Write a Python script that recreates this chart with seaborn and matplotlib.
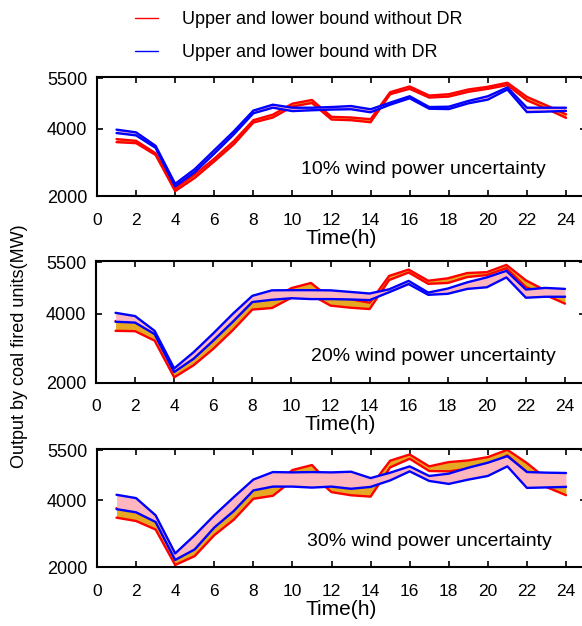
import numpy as np
import matplotlib
matplotlib.use("Agg")
import matplotlib.pyplot as plt
from matplotlib.lines import Line2D
import seaborn as sns

hours = list(range(1, 25))

# 10% wind power uncertainty
red_up_10 = [3700, 3650, 3280, 2240, 2650, 3120, 3640, 4260, 4425, 4750, 4860, 4360,
             4340, 4290, 5090, 5260, 4990, 5030, 5170, 5250, 5370, 4950, 4700, 4435]
red_lo_10 = [3610, 3580, 3230, 2160, 2550, 3040, 3545, 4190, 4340, 4665, 4770, 4280,
             4260, 4200, 5030, 5190, 4930, 4960, 5100, 5190, 5300, 4850, 4600, 4330]
blue_up_10 = [3980, 3900, 3500, 2375, 2810, 3370, 3930, 4545, 4720, 4630, 4630, 4650,
              4680, 4585, 4780, 4970, 4650, 4660, 4830, 4970, 5230, 4630, 4630, 4630]
blue_lo_10 = [3880, 3810, 3440, 2300, 2720, 3270, 3840, 4465, 4630, 4530, 4555, 4575,
              4585, 4495, 4720, 4910, 4600, 4590, 4760, 4870, 5170, 4500, 4515, 4535]

# 20% wind power uncertainty
red_up_20 = [3790, 3770, 3430, 2320, 2720, 3240, 3790, 4360, 4430, 4750, 4900, 4450,
             4430, 4325, 5105, 5290, 4965, 5035, 5190, 5215, 5426, 4976, 4680, 4510]
red_lo_20 = [3505, 3495, 3220, 2150, 2505, 2980, 3525, 4125, 4170, 4470, 4560, 4240,
             4180, 4140, 4985, 5205, 4875, 4900, 5072, 5130, 5330, 4780, 4550, 4297]
blue_up_20 = [4030, 3935, 3505, 2410, 2885, 3430, 4000, 4525, 4685, 4690, 4690, 4685,
              4640, 4593, 4715, 4960, 4620, 4737, 4919, 5062, 5253, 4708, 4756, 4727]
blue_lo_20 = [3770, 3745, 3410, 2305, 2695, 3220, 3770, 4345, 4410, 4455, 4430, 4430,
              4420, 4400, 4630, 4868, 4555, 4584, 4727, 4775, 5062, 4470, 4498, 4498]

# 30% wind power uncertainty
red_up_30 = [3770, 3670, 3380, 2240, 2560, 3220, 3710, 4330, 4430, 4910, 5060, 4450,
             4380, 4420, 5190, 5376, 5020, 5148, 5198, 5297, 5515, 5119, 4650, 4420]
red_lo_30 = [3485, 3385, 3130, 2070, 2335, 2960, 3425, 4050, 4140, 4600, 4760, 4250,
             4155, 4115, 4990, 5248, 4881, 4870, 4950, 5050, 5347, 4850, 4400, 4158]
blue_up_30 = [4170, 4070, 3555, 2415, 2960, 3555, 4100, 4625, 4850, 4840, 4850, 4840,
              4860, 4670, 4830, 5020, 4733, 4802, 4980, 5129, 5327, 4851, 4832, 4822]
blue_lo_30 = [3740, 3645, 3355, 2220, 2535, 3190, 3685, 4300, 4415, 4415, 4385, 4415,
              4350, 4406, 4600, 4871, 4584, 4495, 4624, 4733, 5020, 4376, 4390, 4406]

panel_labels = ["10% wind power uncertainty", "20% wind power uncertainty",
                "30% wind power uncertainty"]
legend_labels = ["Upper and lower bound without DR", "Upper and lower bound with DR"]
x_ticks = list(range(0, 25, 2))
y_ticks = [2000, 4000, 5500]

sns.set_style("ticks")
plt.rcParams['font.family'] = ['Liberation Sans', 'DejaVu Sans']
plt.rcParams['text.color'] = 'black'
plt.rcParams['axes.labelcolor'] = 'black'
plt.rcParams['xtick.color'] = 'black'
plt.rcParams['ytick.color'] = 'black'

RED = "#FF0000"
BLUE = "#0000FF"
ORANGE = "#E6A823"
PINK = "#FFB6BE"

W, H = 582, 626
fig = plt.figure(figsize=(W / 100, H / 100), dpi=100)

# (left px, top px, bottom px)
boxes = [(97, 77, 196.5), (96, 261, 382.5), (97, 449, 567.3)]
xw = 469 / 24 * 25

datasets = [
    (red_up_10, red_lo_10, blue_up_10, blue_lo_10),
    (red_up_20, red_lo_20, blue_up_20, blue_lo_20),
    (red_up_30, red_lo_30, blue_up_30, blue_lo_30),
]
text_pos = [(0.418, 0.222), (0.44, 0.21), (0.43, 0.222)]

for i, ((l, t, b), (ru, rl, bu, bl)) in enumerate(zip(boxes, datasets)):
    ax = fig.add_axes([l / W, 1 - b / H, xw / W, (b - t) / H])
    ax.fill_between(hours, rl, ru, color=ORANGE, lw=0, zorder=1)
    sns.lineplot(x=hours, y=ru, ax=ax, color=RED, lw=1.7, zorder=2)
    sns.lineplot(x=hours, y=rl, ax=ax, color=RED, lw=1.7, zorder=2)
    ax.fill_between(hours, bl, bu, color=PINK, lw=0, zorder=3)
    sns.lineplot(x=hours, y=bu, ax=ax, color=BLUE, lw=1.7, zorder=4)
    sns.lineplot(x=hours, y=bl, ax=ax, color=BLUE, lw=1.7, zorder=4)

    ax.set_xlim(0, 25)
    ax.set_ylim(2000, 5540)
    ax.set_xticks(x_ticks)
    ax.set_yticks(y_ticks)
    ax.tick_params(axis='x', direction='in', top=True, length=4, width=1.2,
                   labelsize=12.5, pad=12, colors='black')
    ax.tick_params(axis='y', direction='in', right=True, length=4, width=1.2,
                   labelsize=13, pad=7, colors='black')
    for sp in ax.spines.values():
        sp.set_linewidth(1.5)
        sp.set_color('black')
    ax.set_xlabel("Time(h)", fontsize=15, labelpad=0.5, color='black')
    ax.set_ylabel("")
    ax.text(text_pos[i][0], text_pos[i][1], panel_labels[i], transform=ax.transAxes,
            fontsize=14, ha='left', va='center', color='black')

fig.text(20 / W, 1 - 346 / H, "Output by coal fired units(MW)", rotation=90,
         fontsize=13, ha='center', va='center', color='black')

handles = [Line2D([], [], color=RED, lw=1.0), Line2D([], [], color=BLUE, lw=1.0)]
fig.legend(handles, legend_labels, loc='center left', bbox_to_anchor=(135 / W, 1 - 36 / H),
           frameon=False, fontsize=13, handlelength=1.3, handletextpad=1.3,
           labelspacing=0.9, borderpad=0, borderaxespad=0, labelcolor='black')

fig.savefig("out.png", dpi=100)
